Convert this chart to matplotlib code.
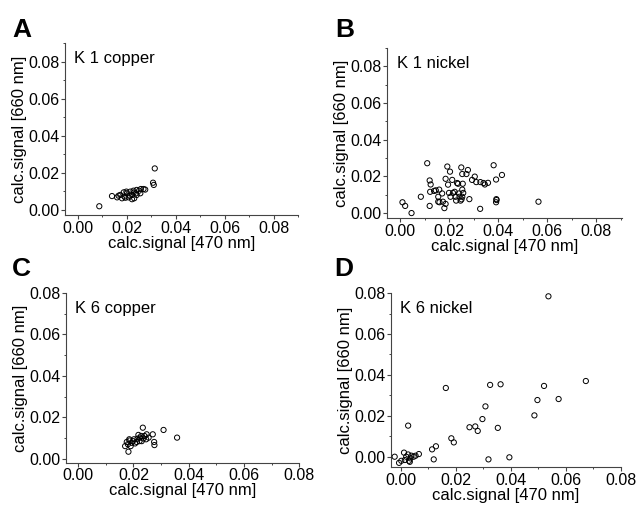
import numpy as np
import matplotlib.pyplot as plt
from matplotlib.ticker import MultipleLocator

plt.rcParams['font.family'] = ['Liberation Sans', 'DejaVu Sans']

# K 1 copper
a_x = [0.0087, 0.0139, 0.0160, 0.0173, 0.0180, 0.0187, 0.0190, 0.0200, 0.0207, 0.0214,
       0.0221, 0.0227, 0.0230, 0.0237, 0.0240, 0.0250, 0.0255, 0.0257, 0.0268, 0.0275,
       0.0307, 0.0310, 0.0314, 0.0221, 0.0198, 0.0211, 0.0240, 0.0166, 0.0194, 0.0228]
a_y = [0.0020, 0.0075, 0.0068, 0.0081, 0.0063, 0.0095, 0.0072, 0.0090, 0.0068, 0.0099,
       0.0081, 0.0104, 0.0063, 0.0090, 0.0108, 0.0104, 0.0090, 0.0113, 0.0113, 0.0110,
       0.0147, 0.0135, 0.0224, 0.0058, 0.0099, 0.0077, 0.0081, 0.0077, 0.0066, 0.0094]

# K 1 nickel
b_x = [0.0009, 0.0020, 0.0046, 0.0084, 0.0110, 0.0120, 0.0124, 0.0122, 0.0120, 0.0138,
       0.0145, 0.0159, 0.0155, 0.0155, 0.0160, 0.0171, 0.0174, 0.0180, 0.0185, 0.0185,
       0.0192, 0.0195, 0.0203, 0.0199, 0.0205, 0.0212, 0.0215, 0.0222, 0.0226, 0.0228,
       0.0232, 0.0236, 0.0239, 0.0242, 0.0246, 0.0249, 0.0253, 0.0255, 0.0253, 0.0257,
       0.0253, 0.0250, 0.0270, 0.0276, 0.0282, 0.0293, 0.0304, 0.0310, 0.0327, 0.0326,
       0.0340, 0.0345, 0.0358, 0.0381, 0.0391, 0.0415, 0.0392, 0.0393, 0.0391, 0.0564]
b_y = [0.0059, 0.0039, 0.0000, 0.0089, 0.0272, 0.0178, 0.0156, 0.0116, 0.0039, 0.0121,
       0.0124, 0.0128, 0.0089, 0.0062, 0.0059, 0.0107, 0.0062, 0.0027, 0.0050, 0.0187,
       0.0254, 0.0155, 0.0226, 0.0110, 0.0089, 0.0181, 0.0110, 0.0116, 0.0089, 0.0068,
       0.0164, 0.0160, 0.0107, 0.0089, 0.0068, 0.0249, 0.0213, 0.0160, 0.0128, 0.0110,
       0.0089, 0.0075, 0.0213, 0.0235, 0.0076, 0.0181, 0.0199, 0.0169, 0.0169, 0.0023,
       0.0164, 0.0156, 0.0165, 0.0261, 0.0183, 0.0208, 0.0076, 0.0071, 0.0059, 0.0062]

# K 6 copper
c_x = [0.0170, 0.0176, 0.0182, 0.0185, 0.0190, 0.0194, 0.0198, 0.0202, 0.0206, 0.0212,
       0.0215, 0.0218, 0.0222, 0.0224, 0.0228, 0.0230, 0.0234, 0.0236, 0.0240, 0.0246,
       0.0248, 0.0255, 0.0270, 0.0275, 0.0276, 0.0309, 0.0358, 0.0180, 0.0186]
c_y = [0.0061, 0.0081, 0.0034, 0.0094, 0.0061, 0.0077, 0.0085, 0.0094, 0.0074, 0.0081,
       0.0097, 0.0115, 0.0085, 0.0102, 0.0110, 0.0085, 0.0150, 0.0098, 0.0110, 0.0094,
       0.0118, 0.0102, 0.0118, 0.0081, 0.0066, 0.0139, 0.0102, 0.0070, 0.0088]

# K 6 nickel
d_x = [-0.0022, -0.0006, 0.0002, 0.0012, 0.0015, 0.0020, 0.0027, 0.0030, 0.0035, 0.0039,
       0.0047, 0.0054, 0.0066, 0.0027, 0.0033, 0.0114, 0.0120, 0.0128, 0.0164, 0.0184,
       0.0193, 0.0250, 0.0271, 0.0280, 0.0297, 0.0308, 0.0325, 0.0319, 0.0353, 0.0363,
       0.0395, 0.0486, 0.0497, 0.0521, 0.0537, 0.0574, 0.0673]
d_y = [0.0000, -0.0030, -0.0020, 0.0020, -0.0016, 0.0000, 0.0152, -0.0020, -0.0008, 0.0005,
       0.0000, 0.0005, 0.0013, 0.0011, -0.0025, 0.0036, -0.0013, 0.0051, 0.0336, 0.0090,
       0.0070, 0.0144, 0.0148, 0.0126, 0.0184, 0.0246, 0.0351, -0.0013, 0.0141, 0.0354,
       -0.0003, 0.0202, 0.0277, 0.0346, 0.0784, 0.0282, 0.0370]

panels = [
    ("A", "K 1 copper", a_x, a_y, [0.102, 0.576, 0.365, 0.339], (-0.0053, 0.090), (-0.0027, 0.090), (12, 37)),
    ("B", "K 1 nickel", b_x, b_y, [0.607, 0.570, 0.368, 0.335], (-0.0053, 0.0905), (-0.0027, 0.090), (335, 37)),
    ("C", "K 6 copper", c_x, c_y, [0.103, 0.087, 0.366, 0.335], (-0.0045, 0.080), (-0.0020, 0.080), (12, 276)),
    ("D", "K 6 nickel", d_x, d_y, [0.613, 0.079, 0.360, 0.343], (-0.0035, 0.080), (-0.0050, 0.080), (334, 276)),
]

fig = plt.figure(figsize=(6.38, 5.07), dpi=100)

for letter, name, xs, ys, rect, xl, yl, lpos in panels:
    ax = fig.add_axes(rect)
    ax.scatter(xs, ys, s=14, facecolors='none', edgecolors='black', linewidths=0.7, zorder=3)
    ax.set_xlim(*xl)
    ax.set_ylim(*yl)
    ax.xaxis.set_major_locator(MultipleLocator(0.02))
    ax.xaxis.set_minor_locator(MultipleLocator(0.01))
    ax.yaxis.set_major_locator(MultipleLocator(0.02))
    ax.yaxis.set_minor_locator(MultipleLocator(0.01))
    ax.xaxis.set_major_formatter(lambda v, p: f"{v:.2f}")
    ax.yaxis.set_major_formatter(lambda v, p: f"{v:.2f}")
    for s in ["top", "right"]:
        ax.spines[s].set_visible(False)
    for s in ["left", "bottom"]:
        ax.spines[s].set_color("#444444")
        ax.spines[s].set_linewidth(0.8)
    ax.tick_params(which='major', direction='out', length=3, width=0.8, color="#444444",
                   labelsize=11.5, pad=1)
    ax.tick_params(which='minor', direction='out', length=1.5, width=0.7, color="#444444")
    ax.set_xlabel("calc.signal [470 nm]", fontsize=12, labelpad=0)
    ax.set_ylabel("calc.signal [660 nm]", fontsize=12, labelpad=1)
    ax.text(0.04, 0.955, name, transform=ax.transAxes, fontsize=12, va='top', ha='left')
    fig.text(lpos[0] / 638, 1 - lpos[1] / 507, letter, fontsize=19, fontweight='bold',
             ha='left', va='baseline')

fig.savefig("out.png", dpi=100)
